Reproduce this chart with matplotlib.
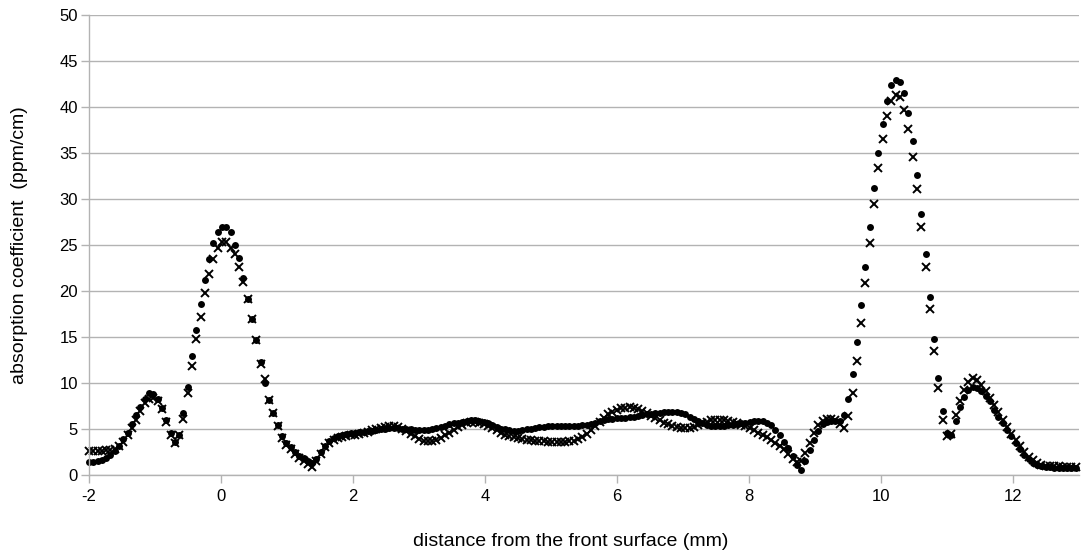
import numpy as np
import matplotlib
matplotlib.use("Agg")
import matplotlib.pyplot as plt

plt.rcParams['font.family'] = ['Liberation Sans', 'DejaVu Sans']

# sampling grid (mm)
x_start = -2.0
x_step = 0.065

# series 1: filled dots (ppm/cm)
dots = [
    1.4, 1.45, 1.5, 1.6, 1.8, 2.2, 2.6, 3.2, 3.9, 4.6,
    5.5, 6.5, 7.4, 8.3, 8.9, 8.8, 8.3, 7.3, 6.0, 4.6,
    3.6, 4.4, 6.7, 9.6, 12.9, 15.8, 18.6, 21.2, 23.5, 25.2,
    26.4, 27.0, 27.0, 26.4, 25.0, 23.6, 21.4, 19.1, 17.0, 14.7,
    12.3, 10.0, 8.2, 6.7, 5.4, 4.2, 3.5, 3.0, 2.5, 2.1,
    1.8, 1.5, 1.3, 1.7, 2.5, 3.2, 3.7, 4.0, 4.2, 4.4,
    4.5, 4.55, 4.6, 4.65, 4.7, 4.75, 4.8, 4.9, 5.0, 5.05,
    5.1, 5.1, 5.1, 5.05, 5.0, 4.95, 4.9, 4.85, 4.85, 4.9,
    5.0, 5.1, 5.2, 5.35, 5.5, 5.6, 5.7, 5.8, 5.9, 5.95,
    5.95, 5.9, 5.8, 5.6, 5.4, 5.2, 5.05, 4.95, 4.85, 4.8,
    4.8, 4.85, 4.95, 5.05, 5.15, 5.2, 5.25, 5.3, 5.3, 5.3,
    5.3, 5.3, 5.3, 5.3, 5.35, 5.4, 5.45, 5.55, 5.7, 5.85,
    5.95, 6.05, 6.1, 6.15, 6.2, 6.25, 6.3, 6.35, 6.45, 6.5,
    6.6, 6.65, 6.7, 6.75, 6.8, 6.85, 6.85, 6.85, 6.75, 6.6,
    6.35, 6.1, 5.85, 5.6, 5.45, 5.35, 5.3, 5.3, 5.35, 5.4,
    5.45, 5.5, 5.6, 5.7, 5.8, 5.85, 5.9, 5.85, 5.7, 5.4,
    4.9, 4.3, 3.6, 2.9, 2.1, 1.1, 0.55, 1.5, 2.7, 3.8,
    4.8, 5.5, 5.8, 5.9, 5.9, 5.85, 6.5, 8.3, 11.0, 14.5,
    18.5, 22.6, 27.0, 31.2, 35.0, 38.2, 40.6, 42.4, 42.9, 42.7,
    41.5, 39.3, 36.3, 32.6, 28.4, 24.0, 19.3, 14.8, 10.5, 7.0,
    4.6, 4.4, 5.9, 7.4, 8.5, 9.25, 9.6, 9.5, 9.1, 8.6,
    8.0, 7.1, 6.35, 5.6, 4.9, 4.2, 3.5, 2.8, 2.2, 1.75,
    1.35, 1.1, 0.95, 0.9, 0.85, 0.8, 0.8, 0.75, 0.75, 0.75,
    0.75,
]

# series 2: crosses (ppm/cm)
crosses = [
    2.6, 2.6, 2.6, 2.65, 2.7, 2.75, 2.85, 3.1, 3.6, 4.3,
    5.1, 6.0, 7.0, 7.8, 8.3, 8.4, 8.0, 7.2, 5.8, 4.3,
    3.5, 4.3, 6.1, 8.9, 11.9, 14.8, 17.2, 19.8, 21.9, 23.5,
    24.7, 25.3, 25.3, 24.7, 24.0, 22.6, 21.0, 19.1, 17.0, 14.7,
    12.1, 10.4, 8.2, 6.7, 5.3, 4.0, 3.3, 2.8, 2.3, 1.9,
    1.5, 1.2, 0.9, 1.5, 2.3, 3.0, 3.5, 3.8, 4.0, 4.1,
    4.2, 4.3, 4.4, 4.5, 4.6, 4.7, 4.85, 5.0, 5.15, 5.25,
    5.3, 5.3, 5.2, 5.0, 4.8, 4.5, 4.2, 3.95, 3.75, 3.65,
    3.7, 3.85, 4.05, 4.3, 4.6, 4.9, 5.2, 5.45, 5.65, 5.8,
    5.8, 5.7, 5.55, 5.35, 5.1, 4.85, 4.6, 4.4, 4.25, 4.15,
    4.05, 3.95, 3.85, 3.8, 3.75, 3.7, 3.65, 3.6, 3.6, 3.6,
    3.6, 3.6, 3.65, 3.75, 3.9, 4.1, 4.5, 4.9, 5.3, 5.8,
    6.2, 6.6, 6.9, 7.1, 7.25, 7.3, 7.35, 7.3, 7.15, 6.95,
    6.7, 6.45, 6.2, 5.95, 5.7, 5.5, 5.3, 5.2, 5.1, 5.1,
    5.15, 5.25, 5.45, 5.65, 5.8, 5.95, 6.0, 6.0, 5.95, 5.85,
    5.75, 5.6, 5.45, 5.3, 5.1, 4.85, 4.6, 4.4, 4.1, 3.8,
    3.5, 3.2, 2.8, 2.3, 1.7, 1.4, 1.5, 2.4, 3.5, 4.6,
    5.4, 5.9, 6.1, 6.1, 6.0, 5.5, 5.1, 6.4, 8.9, 12.4,
    16.5, 20.9, 25.2, 29.5, 33.4, 36.5, 39.0, 40.6, 41.3, 41.1,
    39.7, 37.6, 34.6, 31.1, 27.0, 22.6, 18.0, 13.5, 9.5, 6.0,
    4.2, 4.5, 6.5, 8.0, 9.25, 10.1, 10.5, 10.3, 9.8, 9.1,
    8.4, 7.6, 6.8, 6.0, 5.2, 4.5, 3.8, 3.1, 2.5, 2.0,
    1.6, 1.3, 1.1, 1.0, 1.0, 0.95, 0.95, 0.9, 0.9, 0.9,
    0.9,
]

x = x_start + x_step * np.arange(len(dots))

x_ticks = [-2, 0, 2, 4, 6, 8, 10, 12]
y_ticks = [0, 5, 10, 15, 20, 25, 30, 35, 40, 45, 50]

W, H = 1084, 554
fig = plt.figure(figsize=(W / 100, H / 100), dpi=100)
ax = fig.add_axes([89 / W, 79 / H, 990 / W, 460 / H])

grid_c = '#b3b3b3'
ax.set_xlim(-2, 13)
ax.set_ylim(0, 50)
ax.set_yticks(y_ticks)
ax.set_xticks(x_ticks)
ax.set_xticklabels([str(t) for t in x_ticks])
ax.yaxis.grid(True, color=grid_c, linewidth=1.0)
ax.set_axisbelow(True)
for s in ['top', 'right']:
    ax.spines[s].set_visible(False)
for s in ['left', 'bottom']:
    ax.spines[s].set_color(grid_c)
    ax.spines[s].set_linewidth(1.0)
ax.tick_params(axis='both', colors=grid_c, labelcolor='black', labelsize=12,
               length=6, width=1.0, direction='out')
ax.tick_params(axis='y', pad=2)
ax.tick_params(axis='x', pad=4)

ax.plot(x, crosses, linestyle='none', marker='x', markersize=6,
        markeredgewidth=1.4, color='black', clip_on=False)
ax.plot(x, dots, linestyle='none', marker='o', markersize=5,
        markeredgewidth=0, color='black', clip_on=False)

fig.text(571 / W, 1 - 541 / H, 'distance from the front surface (mm)',
         ha='center', va='center', fontsize=14)
fig.text(20 / W, 1 - 245 / H, 'absorption coefficient  (ppm/cm)',
         ha='center', va='center', rotation=90, fontsize=14)

fig.savefig('out.png', dpi=100)
